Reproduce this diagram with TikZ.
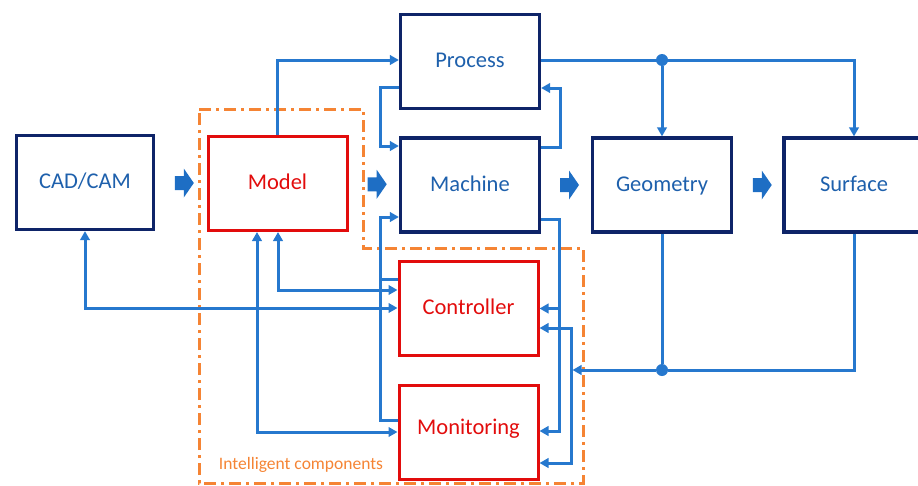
\documentclass[tikz,border=0pt]{standalone}
\usepackage{fontspec}
\setmainfont{Carlito}
\usetikzlibrary{arrows.meta,calc}
\definecolor{navy}{RGB}{14,36,104}
\definecolor{boxred}{RGB}{226,12,12}
\definecolor{txtblue}{RGB}{30,96,172}
\definecolor{linkblue}{RGB}{38,120,206}
\definecolor{arrowfill}{RGB}{30,110,196}
\definecolor{zoneorange}{RGB}{245,132,52}
\begin{document}
\begin{tikzpicture}[x=1pt,y=-1pt,
  box/.style={draw, line width=3.2pt, minimum width=139pt, minimum height=94pt,
    inner sep=0pt, font=\fontsize{22.5}{26}\selectfont, text depth=0pt, text height=12pt},
  navybox/.style={box, draw=navy, text=txtblue},
  redbox/.style={box, draw=boxred, text=boxred, line width=3pt},
  tip/.tip={Triangle[length=9pt,width=9.5pt]},
  plain/.style={draw=linkblue, line width=3pt},
  conn/.style={plain, -tip},
  dual/.style={plain, tip-tip},
  dot/.style={circle, fill=linkblue, inner sep=0pt, minimum size=12pt},
  barrow/.pic={\fill[arrowfill] (-9,-7) -- (0,-7) -- (0,-14.5) -- (10,0) -- (0,14.5) -- (0,7) -- (-9,7) -- cycle;}
]
\useasboundingbox (0,0) rectangle (918,485);
\clip (0,0) rectangle (918,485);

% boundary of the intelligent components
\draw[zoneorange, line width=3pt, dash pattern=on 12pt off 5pt on 3pt off 5pt]
  (199,109) -- (363,109) -- (363,248) -- (583,248) -- (583,483) -- (199,483) -- cycle;
\node[text=zoneorange, font=\fontsize{17.5}{20}\selectfont] (zone) at (301,465) {Intelligent components};

% blocks
\node[navybox, minimum width=137pt] (cad) at (85,182.5) {CAD/CAM};
\node[redbox] (model) at (277.5,183.5) {Model};
\node[navybox] (process) at (470,61.5) {Process};
\node[navybox] (machine) at (470,185) {Machine};
\node[navybox] (geometry) at (662,185) {Geometry};
\node[navybox, minimum width=140pt] (surface) at (854,185) {Surface};
\node[redbox] (controller) at (468.5,308.5) {Controller};
\node[redbox, text depth=8pt] (monitoring) at (468.5,432) {Monitoring};

% flow arrows along the main chain
\pic at ($(cad.east)!0.5!(model.west)+(3,0)$) {barrow};
\pic at ($(model.east)!0.5!(machine.west)+(3,0)$) {barrow};
\pic at ($(machine.east)!0.5!(geometry.west)+(3,0)$) {barrow};
\pic at ($(geometry.east)!0.5!(surface.west)+(4,0)$) {barrow};

% model -> process
\draw[conn] (model.north) |- ($(process.west)+(0,-1.5)$);
% process <-> machine
\draw[conn] ($(process.west)+(0,25.5)$) -- ++(-18,0) |- ($(machine.west)+(0,-39)$);
\draw[conn] ($(machine.east)+(0,-38)$) -- ++(19,0) |- ($(process.east)+(0,26.5)$);

% process -> geometry, surface
\draw[conn] ($(process.east)+(0,-1.5)$) -| (surface.north);
\node[dot] (d1) at ($(geometry.north |- process.east)+(0,-1.5)$) {};
\draw[conn] (d1) -- (geometry.north);

% machine -> controller, monitoring
\draw[conn] ($(machine.east)+(0,34)$) -- ++(18,0) coordinate (mr) |- ($(monitoring.east)+(0,-1)$);
\draw[conn] (mr |- controller.east) -- (controller.east);

% geometry, surface -> controller, monitoring
\coordinate (rbus) at (571,370);
\node[dot] (d2) at (geometry.south |- rbus) {};
\draw[plain] (geometry.south) -- (d2);
\draw[plain] (surface.south) |- (d2);
\draw[conn, shorten >=1.5pt] (d2) -- (rbus);
\draw[dual] ($(controller.east)+(0,19.5)$) -| (rbus) |- ($(monitoring.east)+(0,31)$);

% controller, monitoring -> machine
\draw[conn] ($(controller.west)+(0,-29.5)$) -- ++(-17,0) coordinate (lb) |- ($(machine.west)+(0,32)$);
\draw[plain] ($(monitoring.west)+(0,-12)$) -| (lb);

% model, CAD/CAM <-> controller, monitoring
\draw[dual] ($(model.south)+(0.5,0)$) |- ($(controller.west)+(0,-18.5)$);
\draw[dual] ($(model.south)+(-20.5,0)$) |- (monitoring.west);
\draw[dual] (cad.south) |- ($(controller.west)+(0,-0.5)$);
\end{tikzpicture}
\end{document}
